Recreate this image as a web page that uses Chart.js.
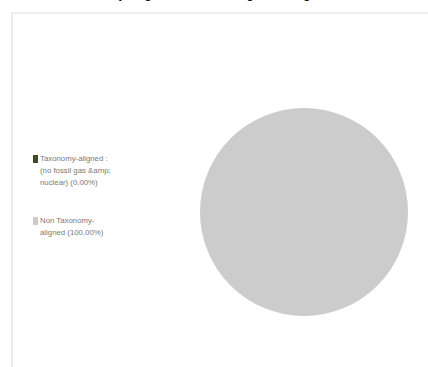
<!DOCTYPE html>
<html>
<head>
<meta charset="utf-8">
<script src="https://cdn.jsdelivr.net/npm/chart.js@4/dist/chart.umd.min.js"></script>
<style>
  html, body { margin: 0; padding: 0; background: #fff; }
  body { width: 428px; height: 367px; position: relative; overflow: hidden; font-family: "Liberation Sans", Arial, sans-serif; }
  .frame { position: absolute; left: 11px; top: 12px; right: -5px; bottom: -5px; border-top: 2px solid #ececec; border-left: 2px solid #ececec; }
  .title { position: absolute; left: 0; width: 428px; top: -15px; text-align: center; font-size: 14px; color: #111; }
  .wrap { position: absolute; left: 200px; top: 108px; width: 208px; height: 208px; }
  #legend { position: absolute; left: 33px; top: 153px; width: 100px; font-size: 7.8px; line-height: 12px; color: #7a7a7a; }
  #legend .item { position: relative; padding-left: 7px; margin-bottom: 26px; }
  #legend .box { position: absolute; left: 0; top: 2px; width: 5px; height: 8px; }
</style>
</head>
<body>
<div class="title">Taxonomy-alignment excluding sovereign bonds*</div>
<div class="frame"></div>
<div id="legend"></div>
<div class="wrap"><canvas id="pieChart"></canvas></div>
<script>
// Data
const labels = ["Taxonomy-aligned : (no fossil gas &amp; nuclear)", "Non Taxonomy-aligned"]
const legendLines = [["Taxonomy-aligned :", "(no fossil gas &amp;", "nuclear) (0.00%)"], ["Non Taxonomy-", "aligned (100.00%)"]]
const values = [0, 100]
const colors = ["#3e4c2a", "#cccccc"]

// Legend
const legend = document.getElementById("legend")
legendLines.forEach((lines, i) => {
  const item = document.createElement("div")
  item.className = "item"
  const box = document.createElement("span")
  box.className = "box"
  box.style.background = colors[i]
  item.appendChild(box)
  lines.forEach((line) => {
    const div = document.createElement("div")
    div.textContent = line
    item.appendChild(div)
  })
  legend.appendChild(item)
})

// Pie
const ctx = document.getElementById("pieChart")
new Chart(ctx, {
  type: "pie",
  data: {
    labels: labels,
    datasets: [
      {
        data: values,
        backgroundColor: colors,
        borderWidth: 0,
      },
    ],
  },
  options: {
    responsive: true,
    maintainAspectRatio: false,
    animation: false,
    layout: { padding: 0 },
    plugins: {
      legend: { display: false },
      tooltip: { enabled: false },
    },
  },
})
</script>
</body>
</html>
